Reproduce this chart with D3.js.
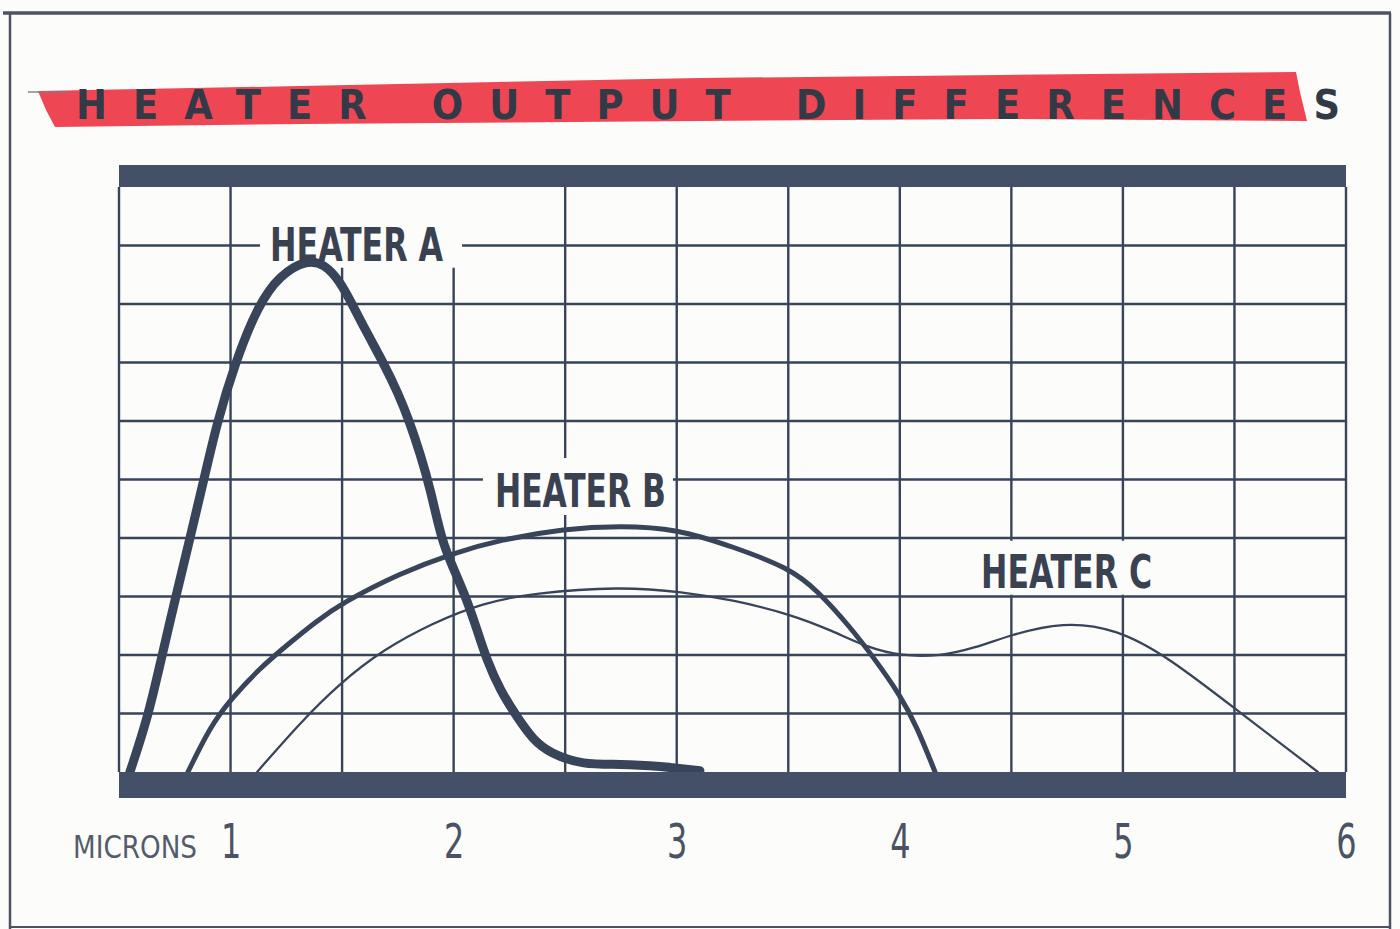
<!DOCTYPE html>
<html>
<head>
<meta charset="utf-8">
<script src="https://cdn.jsdelivr.net/npm/d3@7/dist/d3.min.js"></script>
<style>
  html, body { margin: 0; padding: 0; background: #fcfcfa; }
  svg { display: block; }
</style>
</head>
<body>
<svg id="chart" width="1400" height="929"></svg>
<script>
// ---------------- DATA ----------------
const title = "HEATER OUTPUT DIFFERENCES";
const axisLabel = "MICRONS";
const tickValues = [1, 2, 3, 4, 5, 6];
const tickLabels = ["1", "2", "3", "4", "5", "6"];
const seriesNames = ["HEATER A", "HEATER B", "HEATER C"];

// [microns, relative output]
const heaterA = [
  [0.549, 0], [0.63, 0.94], [0.688, 1.91], [0.751, 2.94], [0.814, 3.93],
  [0.877, 4.94], [0.939, 5.97], [1.02, 6.99], [1.123, 7.98], [1.222, 8.5],
  [1.343, 8.76], [1.423, 8.68], [1.491, 8.38], [1.535, 8.07], [1.612, 7.5],
  [1.683, 7.01], [1.751, 6.48], [1.804, 5.97], [1.849, 5.45], [1.895, 4.85],
  [1.948, 3.93], [1.997, 3.5], [2.06, 2.94], [2.105, 2.43], [2.149, 1.91],
  [2.208, 1.4], [2.284, 0.94], [2.356, 0.55], [2.432, 0.32], [2.58, 0.12],
  [2.746, 0.14], [2.925, 0.1], [3.104, 0.02]
];
const heaterB = [
  [0.809, 0], [0.908, 0.77], [0.998, 1.23], [1.132, 1.78], [1.266, 2.21],
  [1.379, 2.56], [1.5, 2.89], [1.76, 3.4], [1.997, 3.74], [2.208, 3.97],
  [2.499, 4.16], [2.746, 4.21], [3.001, 4.16], [3.252, 3.85], [3.503, 3.49],
  [3.629, 3.11], [3.777, 2.48], [3.88, 1.97], [4.001, 1.32], [4.077, 0.77],
  [4.158, 0]
];
const heaterC = [
  [1.119, 0], [1.311, 0.84], [1.491, 1.52], [1.683, 2.09], [1.907, 2.55],
  [2.131, 2.89], [2.356, 3.06], [2.746, 3.17], [3.028, 3.08], [3.252, 2.94],
  [3.508, 2.7], [3.7, 2.41], [3.853, 2.13], [4.01, 1.98], [4.18, 1.98],
  [4.337, 2.12], [4.494, 2.34], [4.731, 2.57], [4.969, 2.45], [5.202, 1.97],
  [5.52, 1.03], [5.874, 0]
];
const seriesData = [heaterA, heaterB, heaterC];

// ---------------- STYLE ----------------
const INK = "#38445a";
const BAND = "#435068";
const TEXT = "#3a4252";
const RED = "#ef4653";
const BG = "#fcfcfa";
const NARROW = "'Liberation Sans Narrow', 'Arial Narrow', 'DejaVu Sans Condensed', 'Liberation Sans', sans-serif";
const strokeW = [9, 5, 2.3];

const svg = d3.select("#chart");
const xs = d3.scaleLinear().domain([0.5, 6]).range([119, 1346]);
const ys = d3.scaleLinear().domain([0, 10]).range([772, 187]);

// background
svg.append("rect").attr("width", 1400).attr("height", 929).attr("fill", BG);

// outer frame
const frame = svg.append("g").attr("stroke", "#4d5361").attr("fill", "none");
frame.append("line").attr("x1", 3).attr("x2", 1391).attr("y1", 13).attr("y2", 13).attr("stroke-width", 3.5);
frame.append("line").attr("x1", 10).attr("x2", 10).attr("y1", 13).attr("y2", 929).attr("stroke-width", 2.5);
frame.append("line").attr("x1", 1390).attr("x2", 1390).attr("y1", 13).attr("y2", 929).attr("stroke-width", 2.5);
frame.append("line").attr("x1", 10).attr("x2", 1390).attr("y1", 927).attr("y2", 927).attr("stroke-width", 2);

// title brush band
const band = [[38, 91], [300, 86], [700, 78], [1000, 75], [1296, 72], [1300, 92],
              [1307, 121], [1000, 119], [700, 121], [300, 124], [55, 127], [46, 110]];
svg.append("path").attr("d", d3.line()(band) + "Z").attr("fill", RED);
svg.append("line").attr("x1", 28).attr("x2", 68).attr("y1", 92).attr("y2", 92)
  .attr("stroke", "#8a7a80").attr("stroke-width", 2).attr("opacity", 0.7);
svg.append("text")
  .attr("x", 76).attr("y", 119)
  .attr("textLength", 1264).attr("lengthAdjust", "spacing")
  .attr("font-family", NARROW).attr("font-weight", "bold").attr("font-size", 41)
  .attr("fill", "#333a47")
  .text(title);

// grid
const grid = svg.append("g").attr("stroke", INK).attr("stroke-width", 2.4);
grid.selectAll("line.v").data(d3.range(0.5, 6.001, 0.5)).join("line")
  .attr("class", "v")
  .attr("x1", d => xs(d)).attr("x2", d => xs(d))
  .attr("y1", ys(10)).attr("y2", ys(0));
grid.selectAll("line.h").data(d3.range(1, 10)).join("line")
  .attr("class", "h")
  .attr("x1", xs(0.5)).attr("x2", xs(6))
  .attr("y1", d => ys(d)).attr("y2", d => ys(d));

// label annotations (micron / value anchors), with knock-out padding
const labels = [
  { name: seriesNames[0], m: 1.177, v: 8.74, w: 173, pad: { l: 10, r: 19, t: 40, b: 7 } },
  { name: seriesNames[1], m: 2.185, v: 4.53, w: 171, pad: { l: 12, r: 7, t: 15, b: 8 } },
  { name: seriesNames[2], m: 4.364, v: 3.15, w: 171, pad: { l: 6, r: 7, t: 13, b: 7 } }
];
const CAP = 34;
labels.forEach(L => {
  const x0 = xs(L.m), yb = ys(L.v);
  const top = Math.max(ys(10), yb - CAP - L.pad.t);
  svg.append("rect")
    .attr("x", x0 - L.pad.l).attr("y", top)
    .attr("width", L.w + L.pad.l + L.pad.r)
    .attr("height", yb + L.pad.b - top)
    .attr("fill", BG);
});

// top band
svg.append("rect").attr("x", xs(0.5)).attr("y", 165).attr("width", xs(6) - xs(0.5))
  .attr("height", ys(10) - 165).attr("fill", BAND);

// curves
const line = d3.line().x(d => xs(d[0])).y(d => ys(d[1])).curve(d3.curveBasis);
svg.append("g").selectAll("path").data(seriesData).join("path")
  .attr("d", d => line(d))
  .attr("fill", "none")
  .attr("stroke", INK)
  .attr("stroke-width", (d, i) => strokeW[i])
  .attr("stroke-linejoin", "round")
  .attr("stroke-linecap", "round");

// bottom band
svg.append("rect").attr("x", xs(0.5)).attr("y", ys(0)).attr("width", xs(6) - xs(0.5))
  .attr("height", 26).attr("fill", BAND);

// series labels
labels.forEach(L => {
  svg.append("text")
    .attr("x", xs(L.m)).attr("y", ys(L.v))
    .attr("textLength", L.w).attr("lengthAdjust", "spacingAndGlyphs")
    .attr("font-family", NARROW).attr("font-weight", "bold").attr("font-size", 47)
    .attr("fill", TEXT)
    .text(L.name);
});

// x axis tick labels
const axis = d3.axisBottom(xs).tickValues(tickValues).tickFormat((d, i) => tickLabels[i])
  .tickSize(0).tickPadding(0);
const ax = svg.append("g").attr("transform", "translate(0,858)").call(axis);
ax.select(".domain").remove();
ax.selectAll("text")
  .attr("dy", 0).attr("y", 0)
  .attr("transform", "scale(0.74,1)")
  .attr("font-family", NARROW).attr("font-size", 48)
  .attr("fill", "#4a5263");

svg.append("text")
  .attr("x", 73).attr("y", 858)
  .attr("textLength", 124).attr("lengthAdjust", "spacingAndGlyphs")
  .attr("font-family", NARROW).attr("font-size", 32)
  .attr("fill", "#545c6b")
  .text(axisLabel);
</script>
</body>
</html>
